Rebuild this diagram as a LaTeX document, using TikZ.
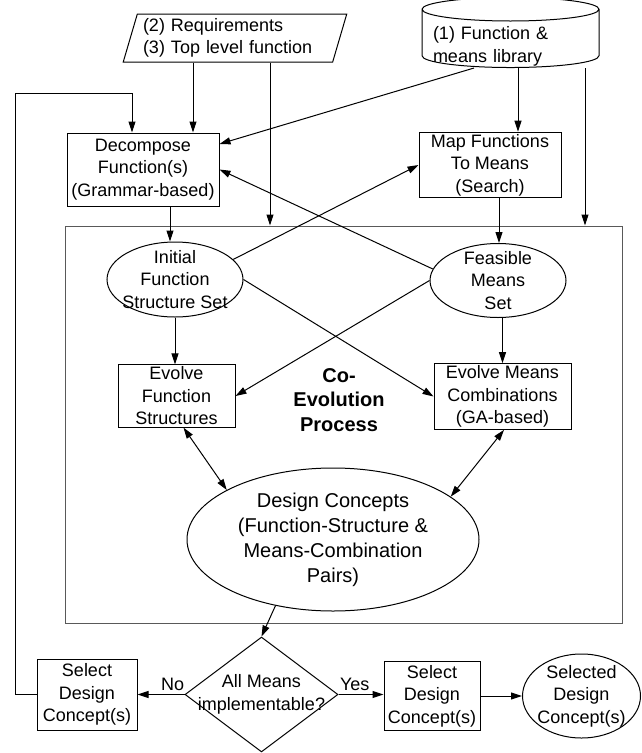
\documentclass[tikz,border=0pt]{standalone}
\usepackage{fontspec}
\setmainfont{Liberation Sans}
\usetikzlibrary{arrows.meta,shapes.geometric}
\tikzstyle{procbox}=[rectangle,draw,line width=1pt,inner sep=2pt,align=center]
\tikzstyle{setell}=[ellipse,draw,line width=1pt,inner sep=-15pt,align=center]
\tikzstyle{decision}=[diamond,draw,line width=1pt,aspect=1.33,inner sep=-20pt,align=center]
\tikzstyle{inbox}=[trapezium,trapezium left angle=72.6,trapezium right angle=107.4,trapezium stretches,draw,line width=1pt,minimum width=224pt,minimum height=48pt,text width=184pt,align=left,inner sep=2pt]
\tikzstyle{store}=[cylinder,shape border rotate=90,draw,line width=1pt,aspect=0.15,minimum width=177pt,minimum height=65pt,text width=155pt,text height=17pt,text depth=17pt,align=left,inner sep=1pt]
\tikzstyle{coframe}=[rectangle,draw=black!65,line width=1pt]

\begin{document}
\begin{tikzpicture}[x=1pt,y=-1pt,>={Triangle[length=11pt,width=7pt]},line width=1pt,font=\fontsize{18}{22.5}\selectfont]
        \useasboundingbox (0,0) rectangle (641,753);
        \node at (343.5,424.5) [coframe,minimum width=557pt,minimum height=397pt] (frame) {};
        \node at (235,38)    [inbox]  (req) {(2) Requirements\\(3) Top level function};
        \node at (510.5,39.5) [store] (lib) {(1) Function \&\\means library};
        \node at (143,169.5) [procbox,minimum width=152pt,minimum height=73pt] (dec) {Decompose\\Function(s)\\(Grammar-based)};
        \node at (490,165)   [procbox,minimum width=142pt,minimum height=64pt] (map) {Map Functions\\To Means\\(Search)};
        \node at (175,279.5) [setell,minimum width=136pt,minimum height=75pt] (init) {Initial\\Function\\Structure Set};
        \node at (498,280.5) [setell,minimum width=136pt,minimum height=74pt] (feas) {Feasible\\Means\\Set};
        \node at (176.5,396) [procbox,minimum width=117pt,minimum height=62pt] (evf) {Evolve\\Function\\Structures};
        \node at (502.5,396.5) [procbox,minimum width=137pt,minimum height=65pt] (evm) {Evolve Means\\Combinations\\(GA-based)};
        \node at (339,400) [align=center,font=\fontsize{20}{24.5}\selectfont\bfseries] (coevo) {Co-\\Evolution\\Process};
        \node at (333,539.5) [setell,minimum width=292pt,minimum height=143pt,font=\fontsize{20}{25}\selectfont] (dc) {Design Concepts\\(Function-Structure \&\\Means-Combination\\Pairs)};
        \node at (261.5,694.5) [decision,minimum width=153pt,minimum height=115pt] (dia) {All Means\\implementable?};
        \node at (87,694.5)  [procbox,minimum width=100pt,minimum height=71pt] (sel1) {Select\\Design\\Concept(s)};
        \node at (432,696)   [procbox,minimum width=96pt,minimum height=69pt] (sel2) {Select\\Design\\Concept(s)};
        \node at (581.5,696) [setell,minimum width=118pt,minimum height=84pt] (out) {Selected\\Design\\Concept(s)};
        \coordinate (back) at (15,93);

        \draw [->] (sel1.west) -| (back) -| ([xshift=-11pt]dec.north);
        \draw [->] ([xshift=-42pt]req.south) -- ([xshift=-42pt]req.south |- dec.north);
        \draw [->] ([xshift=35pt]req.south) -- ([xshift=35pt]req.south |- frame.north);
        \draw [->] ([xshift=-36.5pt]lib.south) -- ([yshift=25.5pt]dec.east);
        \draw [->] ([xshift=7.5pt]lib.south) -- ([xshift=7.5pt]lib.south |- map.north);
        \draw [->] ([xshift=74.5pt]lib.south) -- ([xshift=74.5pt]lib.south |- frame.north);
        \draw [->] ([xshift=27pt]dec.south) -- ([xshift=27pt]dec.south |- init.north);
        \draw [->] ([xshift=9pt]map.south) -- ([xshift=9pt]map.south |- feas.north);
        \draw [->] (init.19) -- (map.west);
        \draw [->] (feas.170) -- (dec.east);
        \draw [->] (init.east) -- (evm.west);
        \draw [->] (feas.west) -- (evf.east);
        \draw [->] (init.south) -- (init.south |- evf.north);
        \draw [->] (feas.south -| evm.north) -- (evm.north);
        \draw [<->] ([xshift=7pt]evf.south) -- (dc.155);
        \draw [<->] ([xshift=1.5pt]evm.south) -- (dc.20);
        \draw [->] (dc.229) -- (dia.north);
        \draw [->] (dia.west) -- node[above,pos=0.25] (no) {No} (sel1.east);
        \draw [->] (dia.east) -- node[above,pos=0.36] (yes) {Yes} (dia.east -| sel2.west);
        \draw [->] (sel2.east) -- (out.west);
      \end{tikzpicture}
\end{document}
